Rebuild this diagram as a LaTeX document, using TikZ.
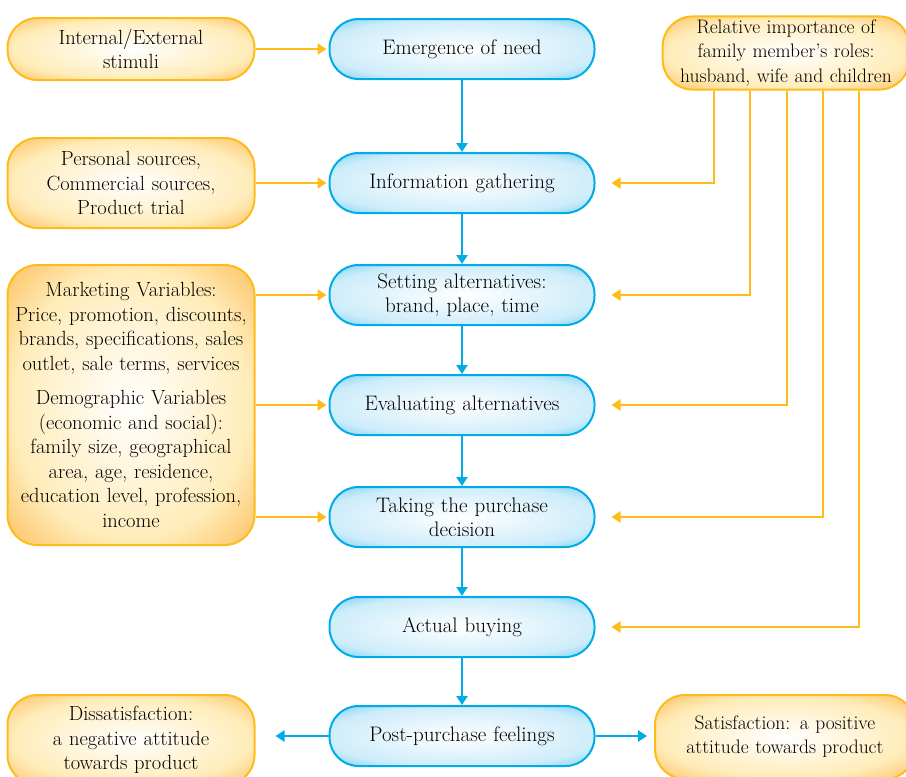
\documentclass[tikz,border=0pt]{standalone}
\usepackage{tikz}
\usetikzlibrary{arrows.meta}

\definecolor{skyline}{RGB}{0,172,232}
\definecolor{skyglow}{RGB}{60,190,240}
\definecolor{skypale}{RGB}{205,236,250}
\definecolor{amberline}{RGB}{253,188,25}
\definecolor{amberglow}{RGB}{250,165,40}
\definecolor{amberpale}{RGB}{255,236,185}

\pgfdeclareradialshading{stageglow}{\pgfpoint{0bp}{0bp}}{color(0bp)=(white); color(26bp)=(skypale); color(43bp)=(skyglow); color(50bp)=(skyline)}
\pgfdeclareradialshading{factorglow}{\pgfpoint{0bp}{0bp}}{color(0bp)=(white); color(24bp)=(amberpale); color(43bp)=(amberglow); color(50bp)=(amberglow)}

\tikzset{
  stage/.style={draw=skyline, line width=2pt, rounded corners=29pt, shading=stageglow,
    minimum width=265pt, minimum height=60pt, text width=250pt, align=center,
    font=\fontsize{21}{24}\selectfont},
  factor/.style={draw=amberline, line width=2pt, rounded corners=30pt, shading=factorglow,
    minimum width=247pt, text width=240pt, align=center, font=\fontsize{20.5}{24.5}\selectfont},
  flow/.style={draw=skyline, line width=2.5pt, -{Triangle[width=11pt,length=9pt]}},
  feed/.style={draw=amberline, line width=2.5pt, -{Triangle[width=11pt,length=9pt]}},
}

\begin{document}
\begin{tikzpicture}[x=1pt,y=-1pt]
    \useasboundingbox (0,0) rectangle (906,777);
    % buying stages
    \node[stage] (need) at (462,49) {Emergence of need};
    \node[stage] (info) at (462,183) {Information gathering};
    \node[stage] (set) at (462,295) {Setting alternatives:\\ brand, place, time};
    \node[stage] (eval) at (462,405) {Evaluating alternatives};
    \node[stage] (dec) at (462,517) {Taking the purchase\\ decision};
    \node[stage] (buy) at (462,627) {Actual buying};
    \node[stage] (post) at (462,736) {Post-purchase feelings};
    % influences on the left
    \node[factor, minimum height=62pt] (stim) at (131,49) {Internal/External\\ stimuli};
    \node[factor, minimum height=90pt] (src) at (131,183) {Personal sources,\\ Commercial sources,\\ Product trial};
    \node[factor, minimum height=280pt] (vars) at (131,405) {Marketing Variables:\\ Price, promotion, discounts,\\ brands, specifications, sales\\ outlet, sale terms, services\\[10pt]
      Demographic Variables\\ (economic and social):\\ family size, geographical\\ area, age, residence,\\ education level, profession,\\ income};
    \node[factor, minimum height=90pt] (dis) at (131,740) {Dissatisfaction:\\ a negative attitude\\ towards product};
    % family roles and outcome on the right
    \node[factor, minimum width=245pt, minimum height=72pt, font=\fontsize{19.5}{24.5}\selectfont] (fam) at (786,53) {Relative importance of\\ family member's roles:\\ husband, wife and children};
    \node[factor, minimum width=260pt, minimum height=84pt, font=\fontsize{19.5}{24}\selectfont] (sat) at (785,737) {Satisfaction: a positive\\ attitude towards product};
    % stage flow
    \foreach \a/\b in {need/info, info/set, set/eval, eval/dec, dec/buy, buy/post}
        \draw[flow] (\a) -- (\b);
    \draw[flow] (post) -- ([xshift=20pt]dis.east |- post.west);
    \draw[flow] (post) -- ([xshift=-7pt]sat.west |- post.east);
    % inputs from the left
    \draw[feed, shorten >=2pt] (stim) -- (need);
    \draw[feed, shorten >=2pt] (src) -- (info);
    \foreach \t in {set, eval, dec}
        \draw[feed, shorten >=2pt] (vars.east |- \t.west) -- (\t.west);
    % family roles feeding each stage
    \foreach \s/\t in {-72/info, -36/set, 1/eval, 37/dec, 73/buy}
        \draw[feed] ([xshift=\s pt]fam.south) |- ([xshift=16pt]\t.east);
\end{tikzpicture}
\end{document}
